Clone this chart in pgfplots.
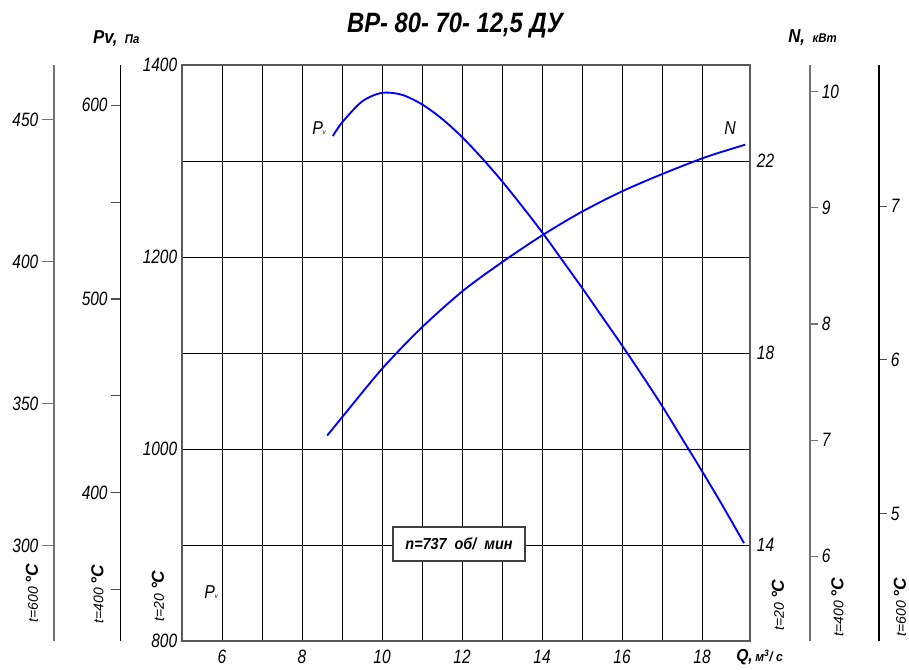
\documentclass[border=0pt]{standalone}
\usepackage{pgfplots}
\pgfplotsset{compat=1.18}
\usepackage{fontspec}
\setmainfont{Liberation Sans}
\newcommand{\tl}{\fontsize{14.5}{14.5}\selectfont\itshape}
\begin{document}
\begin{tikzpicture}
\path[use as bounding box] (0pt,0pt) rectangle (681.75pt,-501.75pt);
\pgfplotsset{
  side/.style={scale only axis, width=1pt, height=432pt, xmin=0, xmax=1,
    axis x line=none, tick align=outside,
    /pgf/number format/assume math mode=true,
    tick label style={font=\tl, xscale=0.8}},
}
% far left t=600 scale
\begin{axis}[side, at={(40.5pt,-480.75pt)}, anchor=south west,
  axis y line*=left, ymin=266.5, ymax=469.3, ytick={300,350,400,450},
  major tick length=9pt, y axis line style={black!55, line width=1pt},
  ytick style={black!55, line width=0.8pt}]
\end{axis}
% left t=400 scale
\begin{axis}[side, at={(90.5pt,-480.75pt)}, anchor=south west,
  axis y line*=left, ymin=323.4, ymax=620.8, ytick={350,400,...,600},
  yticklabels={,400,,500,,600},
  major tick length=7pt, y axis line style={black, line width=0.9pt},
  ytick style={black!70, line width=0.8pt}]
\end{axis}
% right N t=400 scale
\begin{axis}[side, at={(607.5pt,-480.75pt)}, anchor=south east,
  axis y line*=right, ymin=5.27, ymax=10.23, ytick={6,...,10},
  major tick length=6pt, y axis line style={black!55, line width=1pt},
  ytick style={black!55, line width=0.8pt}]
\end{axis}
% far right t=600 scale
\begin{axis}[side, at={(659.25pt,-480.75pt)}, anchor=south east,
  axis y line*=right, ymin=4.17, ymax=7.92, ytick={5,6,7},
  major tick length=6pt, y axis line style={black, line width=0.9pt},
  ytick style={black!70, line width=0.8pt}]
\end{axis}
% main axis: Pv (Pa)
\begin{axis}[at={(136.5pt,-480.75pt)}, anchor=south west, scale only axis,
  width=426pt, height=432pt,
  xmin=5, xmax=19.2, ymin=800, ymax=1400,
  xtick={6,8,...,18}, minor xtick={7,9,...,17},
  ytick={800,1000,1200,1400}, minor ytick={900,1100,1300},
  grid=both,
  major grid style={black, line width=0.6pt},
  minor grid style={black, line width=0.6pt},
  major tick length=0pt, minor tick length=0pt,
  axis line style={black!65, line width=1pt},
  tick label style={font=\tl, xscale=0.8},
  /pgf/number format/assume math mode=true,
  /pgf/number format/1000 sep={},
  yticklabel style={xshift=-1pt},
  xticklabel style={yshift=-3pt},
  clip=false]
\addplot[blue, line width=1.4pt, smooth] coordinates {
 (8.77,1326) (9.0,1340) (9.5,1362) (10.0,1371) (10.5,1369) (11.0,1359)
 (11.5,1344) (12.0,1325) (12.5,1303) (13.0,1279) (13.5,1253) (14.0,1226)
 (14.5,1197) (15.0,1168) (15.5,1138) (16.0,1108) (16.5,1077) (17.0,1045)
 (17.5,1011) (18.0,977) (18.5,942) (19.05,902)};
\end{axis}
% N (kW) at t=20 on the same frame
\begin{axis}[at={(136.5pt,-480.75pt)}, anchor=south west, scale only axis,
  width=426pt, height=432pt,
  xmin=5, xmax=19.2, ymin=12, ymax=24,
  axis x line=none, axis y line*=right, y axis line style={draw=none},
  ytick={14,18,22}, major tick length=0pt,
  tick label style={font=\tl, xscale=0.8},
  /pgf/number format/assume math mode=true,
  yticklabel style={xshift=3pt}]
\addplot[blue, line width=1.4pt, smooth] coordinates {
 (8.63,16.28) (9.02,16.68) (10.01,17.68) (10.98,18.52) (12.0,19.28) (12.98,19.88)
 (14.02,20.46) (14.99,20.94) (15.98,21.36) (16.98,21.72) (18.09,22.08) (19.08,22.34)};
\end{axis}
\begin{scope}[x=0.75pt,y=-0.75pt]
\node[font=\fontsize{21}{21}\selectfont\bfseries\itshape, xscale=0.85] at (455,26) {ВР- 80- 70- 12,5 ДУ};
\node[anchor=west, font=\fontsize{14}{14}\selectfont\bfseries\itshape, xscale=0.9] at (89,39) {Pv,\, {\fontsize{9.5}{9.5}\selectfont Па}};
\node[anchor=west, font=\fontsize{14}{14}\selectfont\bfseries\itshape, xscale=0.9] at (784,38) {N,\, {\fontsize{9.5}{9.5}\selectfont кВт}};
\node[anchor=west, font=\fontsize{13}{13}\selectfont\bfseries\itshape, xscale=0.9, inner sep=0pt] at (736,657) {Q,\,{\fontsize{10}{10}\selectfont м\textsuperscript{3}/ с}};
\node[draw=black!75, line width=0.8pt, fill=white, minimum width=99pt, minimum height=25.5pt,
  font=\fontsize{12}{12}\selectfont\bfseries\itshape] at (459,544) {\scalebox{0.9}[1]{n=737\ \ об/\ \ мин}};
\node[font=\fontsize{14}{14}\selectfont\itshape, xscale=0.85] at (319,128) {P{\fontsize{5}{5}\selectfont v}};
\node[font=\fontsize{14}{14}\selectfont\itshape, xscale=0.85] at (211,592) {P{\fontsize{5}{5}\selectfont v}};
\node[font=\fontsize{14}{14}\selectfont\itshape, xscale=0.85] at (730,128) {N};
\foreach \xx/\yy/\tt in {32/593/600, 97.5/594/400, 158/596/20, 778/605/20, 837.5/607/400, 900/607/600}{
  \node[rotate=90, font=\fontsize{10.5}{10.5}\selectfont\itshape, inner sep=0pt] at (\xx,\yy) {t=\tt\ \textbf{\fontsize{13}{13}\selectfont °С}};
}
\end{scope}
\end{tikzpicture}
\end{document}
